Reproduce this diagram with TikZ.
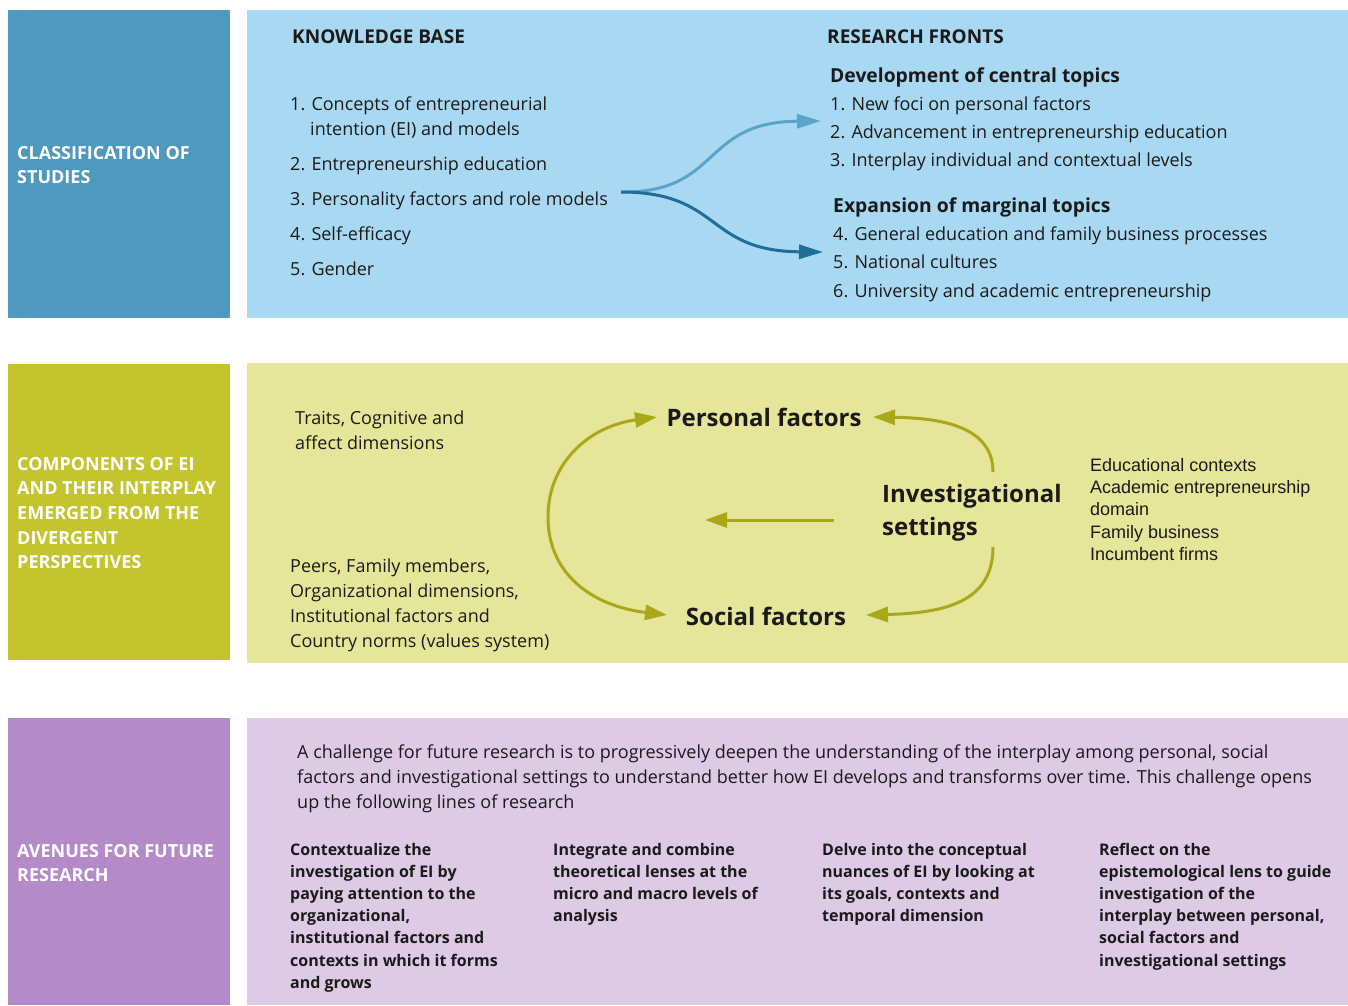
\documentclass[tikz,border=0pt]{standalone}
\usepackage{fontspec}
\setmainfont{Open Sans}
\newfontfamily\arialf{Liberation Sans}
\usetikzlibrary{arrows.meta}
\definecolor{lb1}{HTML}{4F98BE}
\definecolor{rb1}{HTML}{A9D9F2}
\definecolor{lb2}{HTML}{C3C42E}
\definecolor{rb2}{HTML}{E6E69B}
\definecolor{lb3}{HTML}{B48BC8}
\definecolor{rb3}{HTML}{DDCAE5}
\definecolor{arlight}{HTML}{5BA3C8}
\definecolor{ardark}{HTML}{1F6E9A}
\definecolor{olive}{HTML}{A8A81A}
\definecolor{txt}{HTML}{1A1A1A}
\tikzset{
  sidelabel/.style={anchor=base west,align=left,text=white,inner sep=0pt,font={\fontsize{18}{24.7}\selectfont\bfseries}},
  body/.style={anchor=base west,align=left,text=txt,inner sep=0pt,font={\fontsize{18}{25}\selectfont}},
  head/.style={anchor=base west,text=txt,inner sep=0pt,font={\fontsize{19}{25}\selectfont\bfseries}},
  subhead/.style={anchor=base west,text=txt,inner sep=0pt,font={\fontsize{19.3}{25}\selectfont\bfseries}},
  big/.style={text=txt,inner sep=0pt,font={\fontsize{24}{33}\selectfont\bfseries}},
  arial/.style={anchor=base west,align=left,text=txt,inner sep=0pt,font={\arialf\fontsize{18}{22.4}\selectfont}},
  col/.style={anchor=base west,align=left,text=txt,inner sep=0pt,font={\fontsize{16}{22.2}\selectfont\bfseries}},
  tip/.style={-{Triangle[length=24pt,width=14pt]}},
  oarrow/.style={draw=olive,line width=3pt,-{Triangle[length=22pt,width=15pt]}},
}
\begin{document}
\begin{tikzpicture}[x=1pt,y=-1pt]
\useasboundingbox (0,0) rectangle (1348,1005);
\fill[white] (0,0) rectangle (1348,1005);
% panels
\fill[lb1] (8,10) rectangle (230,318);
\fill[rb1] (247,10) rectangle (1348,318);
\fill[lb2] (8,364) rectangle (230,660);
\fill[rb2] (247,363) rectangle (1348,663);
\fill[lb3] (8,718) rectangle (230,1005);
\fill[rb3] (247,718) rectangle (1348,1005);
% side labels (anchor = baseline of last line)
\node[sidelabel] (s1) at (17,183.7) {CLASSIFICATION OF\\STUDIES};
\node[sidelabel] (s2) at (17,568.8) {COMPONENTS OF EI\\AND THEIR INTERPLAY\\EMERGED FROM THE\\DIVERGENT\\PERSPECTIVES};
\node[sidelabel] (s3) at (17,881.7) {AVENUES FOR FUTURE\\RESEARCH};
% section 1
\node[head] (kb) at (292,43) {KNOWLEDGE BASE};
\node[head] (rf) at (827,43) {RESEARCH FRONTS};
\node[body] (k1) at (290,110) {1. Concepts of entrepreneurial};
\node[body] (k1b) at (310,135) {intention (EI) and models};
\node[body] (k2) at (290,170) {2. Entrepreneurship education};
\node[body] (k3) at (290,205) {3. Personality factors and role models};
\node[body] (k4) at (290,240) {4. Self-efficacy};
\node[body] (k5) at (290,275) {5. Gender};
\node[subhead] (dev) at (830,82) {Development of central topics};
\node[body] (r1) at (830,110) {1. New foci on personal factors};
\node[body] (r2) at (830,138) {2. Advancement in entrepreneurship education};
\node[body] (r3) at (830,166) {3. Interplay individual and contextual levels};
\node[subhead] (exp) at (833,212) {Expansion of marginal topics};
\node[body] (r4) at (833,240) {4. General education and family business processes};
\node[body] (r5) at (833,268) {5. National cultures};
\node[body] (r6) at (833,297) {6. University and academic entrepreneurship};
\coordinate (fork) at (621,192);
\coordinate (upt) at (821,121);
\coordinate (lot) at (823,252);
\draw[arlight,line width=3pt,tip] (fork) .. controls (722,193) and (700,122) .. (upt);
\draw[ardark,line width=3pt,tip] (fork) .. controls (722,192) and (705,251) .. (lot);
% section 2
\node[body] (tr) at (295,449) {Traits, Cognitive and\\affect dimensions};
\node[body] (pe) at (290,647) {Peers, Family members,\\Organizational dimensions,\\Institutional factors and\\Country norms (values system)};
\node[big] (pf) at (764,417) {Personal factors};
\node[big] (sf) at (766,616) {Social factors};
\node[big,anchor=base west,align=left] (is) at (882,535) {Investigational\\settings};
\node[arial] (ed) at (1090,560.6) {Educational contexts\\Academic entrepreneurship\\domain\\Family business\\Incumbent firms};
\coordinate (pft) at (657,417);
\coordinate (sft) at (667,615);
\coordinate (pfr) at (873,417);
\coordinate (sfr) at (866,615);
\coordinate (ist) at (993,472);
\coordinate (isb) at (993,547);
\coordinate (ms) at (834,520);
\coordinate (me) at (705,520);
\draw[oarrow,{Triangle[length=22pt,width=15pt]}-{Triangle[length=22pt,width=15pt]}] (pft) .. controls (590,426) and (548,462) .. (548,517) .. controls (548,574) and (592,606) .. (sft);
\draw[oarrow] (ist) .. controls (993,428) and (945,418) .. (pfr);
\draw[oarrow] (isb) .. controls (993,602) and (945,613) .. (sfr);
\draw[oarrow] (ms) -- (me);
% section 3
\node[body] (intro) at (297,808) {A challenge for future research is to progressively deepen the understanding of the interplay among personal, social\\factors and investigational settings to understand better how EI develops and transforms over time. This challenge opens\\up the following lines of research};
\node[col] (c1) at (290,988.2) {Contextualize the\\investigation of EI by\\paying attention to the\\organizational,\\institutional factors and\\contexts in which it forms\\and grows};
\node[col] (c2) at (553,921.6) {Integrate and combine\\theoretical lenses at the\\micro and macro levels of\\analysis};
\node[col] (c3) at (822,921.6) {Delve into the conceptual\\nuances of EI by looking at\\its goals, contexts and\\temporal dimension};
\node[col] (c4) at (1099,966) {Reflect on the\\epistemological lens to guide\\investigation of the\\interplay between personal,\\social factors and\\investigational settings};
\end{tikzpicture}
\end{document}
